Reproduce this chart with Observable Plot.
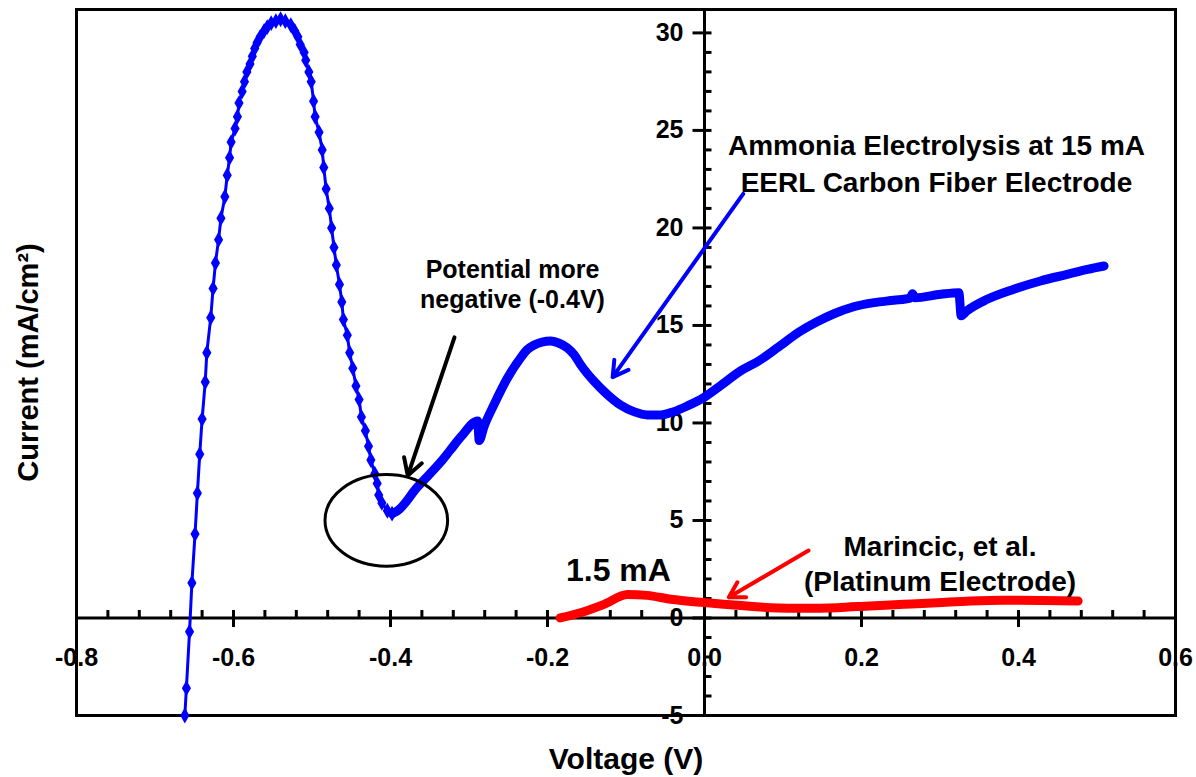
<!DOCTYPE html>
<html><head><meta charset="utf-8">
<script src="https://cdn.jsdelivr.net/npm/d3@7"></script>
<script src="https://cdn.jsdelivr.net/npm/@observablehq/plot@0.6"></script>
<style>
body{margin:0;background:#fff;}
#chart svg{display:block;}
</style></head><body><div id="chart"></div>
<script>
// Blue series, marker part (sweep from -0.66 V up through the big peak to the minimum)
const blueMarkerV = [-0.662,-0.660,-0.656,-0.653,-0.649,-0.646,-0.643,-0.640,-0.636,-0.634,-0.629,-0.626,-0.623,-0.619,-0.616,-0.611,-0.608,-0.605,-0.603,-0.598,-0.595,-0.593,-0.589,-0.586,-0.583,-0.579,-0.576,-0.573,-0.570,-0.566,-0.561,-0.557,-0.552,-0.546,-0.540,-0.534,-0.527,-0.522,-0.518,-0.515,-0.510,-0.508,-0.504,-0.501,-0.498,-0.496,-0.491,-0.487,-0.485,-0.482,-0.478,-0.475,-0.472,-0.469,-0.465,-0.462,-0.460,-0.455,-0.452,-0.448,-0.444,-0.440,-0.437,-0.432,-0.428,-0.425,-0.420,-0.417,-0.415,-0.411,-0.404,-0.398];
const blueMarkerI = [-5.0,-3.6,-0.7,1.8,4.3,6.4,8.4,10.2,12.1,13.6,15.4,16.9,18.2,19.4,20.5,21.6,22.7,23.6,24.4,25.1,25.7,26.4,27.0,27.5,28.0,28.4,28.8,29.2,29.5,29.8,30.1,30.3,30.5,30.6,30.7,30.6,30.4,30.1,29.8,29.4,29.0,28.6,28.0,27.5,26.5,25.7,24.9,24.0,23.1,22.0,21.0,20.0,19.0,18.1,17.1,16.2,15.3,14.5,13.6,12.8,11.9,11.2,10.3,9.6,8.8,8.1,7.4,6.9,6.3,5.9,5.5,5.35];
// Blue series, dense part (markers overlap into a thick band)
const blueBandV = [-0.398,-0.391,-0.366,-0.336,-0.324,-0.310,-0.289,-0.287,-0.281,-0.268,-0.251,-0.234,-0.226,-0.217,-0.207,-0.196,-0.186,-0.175,-0.166,-0.158,-0.141,-0.124,-0.107,-0.090,-0.073,-0.056,-0.039,-0.022,-0.001,0.020,0.046,0.069,0.093,0.122,0.144,0.165,0.190,0.216,0.241,0.262,0.265,0.268,0.301,0.324,0.327,0.334,0.360,0.394,0.428,0.462,0.488,0.509];
const blueBandI = [5.35,5.5,6.7,8.0,8.6,9.3,10.1,9.1,9.8,10.95,12.3,13.35,13.75,14.0,14.15,14.2,14.1,13.86,13.5,13.0,12.15,11.47,10.92,10.58,10.41,10.41,10.58,10.87,11.30,11.9,12.67,13.18,13.86,14.7,15.2,15.6,15.96,16.17,16.29,16.40,16.62,16.42,16.6,16.68,15.5,15.74,16.34,16.86,17.28,17.62,17.88,18.05];
// Red series (Marincic, Platinum electrode)
const redV = [-0.184,-0.158,-0.128,-0.098,-0.073,-0.043,-0.001,0.042,0.084,0.127,0.169,0.211,0.254,0.296,0.339,0.381,0.430,0.476];
const redI = [0.0,0.27,0.70,1.21,1.16,0.96,0.79,0.65,0.53,0.50,0.53,0.62,0.70,0.78,0.87,0.91,0.90,0.87];

const xTicks = [-0.8,-0.6,-0.4,-0.2,0,0.2,0.4,0.6];
const xTickLabels = ["-0.8","-0.6","-0.4","-0.2","0.0","0.2","0.4","0.6"];
const xMinor = [-0.76,-0.72,-0.68,-0.64,-0.56,-0.52,-0.48,-0.44,-0.36,-0.32,-0.28,-0.24,-0.16,-0.12,-0.08,-0.04,0.04,0.08,0.12,0.16,0.24,0.28,0.32,0.36,0.44,0.48,0.52,0.56];
const yTicks = [-5,0,5,10,15,20,25,30];
const yTickLabels = ["-5","0","5","10","15","20","25","30"];
const yMinor = [-4,-3,-2,-1,1,2,3,4,6,7,8,9,11,12,13,14,16,17,18,19,21,22,23,24,26,27,28,29];

const xTitle = "Voltage (V)";
const yTitle = "Current (mA/cm²)";
const noteBlue = "Ammonia Electrolysis at 15 mA\nEERL Carbon Fiber Electrode";
const noteRed = "Marincic, et al.\n(Platinum Electrode)";
const notePotential = "Potential more\nnegative (-0.4V)";
const noteRedPeak = "1.5 mA";

const markers = blueMarkerV.map((v,i)=>({v, c: blueMarkerI[i]}));
const band = blueBandV.map((v,i)=>({v, c: blueBandI[i]}));
const red = redV.map((v,i)=>({v, c: redI[i]}));

const vCross = {draw(ctx){ctx.moveTo(0,-8);ctx.lineTo(0,9);}};
const vUp = {draw(ctx){ctx.moveTo(0,-8);ctx.lineTo(0,0);}};
const hCross = {draw(ctx){ctx.moveTo(-12,0);ctx.lineTo(7,0);}};
const hRight = {draw(ctx){ctx.moveTo(0,0);ctx.lineTo(7,0);}};

const font = "'Liberation Sans', Arial, Helvetica, sans-serif";

const plot = Plot.plot({
  width: 1196, height: 777,
  marginLeft: 76, marginRight: 21, marginTop: 9, marginBottom: 62,
  x: {domain: [-0.8, 0.6], axis: null},
  y: {domain: [-5, 31.2], axis: null},
  style: {fontFamily: font, fontWeight: "bold", background: "white", color: "black"},
  marks: [
    Plot.frame({stroke: "black", strokeWidth: 3}),
    Plot.ruleY([0], {stroke: "black", strokeWidth: 3}),
    Plot.ruleX([0], {stroke: "black", strokeWidth: 3}),
    Plot.dot(xTicks, {x: d=>d, y: ()=>0, symbol: vCross, stroke: "black", fill: "none", strokeWidth: 3}),
    Plot.dot(xMinor, {x: d=>d, y: ()=>0, symbol: vUp, stroke: "black", fill: "none", strokeWidth: 3}),
    Plot.dot(yTicks, {x: ()=>0, y: d=>d, symbol: hCross, stroke: "black", fill: "none", strokeWidth: 3}),
    Plot.dot(yMinor, {x: ()=>0, y: d=>d, symbol: hRight, stroke: "black", fill: "none", strokeWidth: 3}),
    Plot.text(xTicks, {x: d=>d, y: ()=>0, text: (d,i)=>xTickLabels[i], dy: 40, fontSize: 25, fontWeight: "bold", lineAnchor: "middle"}),
    Plot.text(yTicks, {x: ()=>0, y: d=>d, text: (d,i)=>yTickLabels[i], dx: -21, textAnchor: "end", fontSize: 25, fontWeight: "bold", lineAnchor: "middle"}),
    // red series
    Plot.line(red, {x: "v", y: "c", stroke: "#ff0000", strokeWidth: 9, strokeLinejoin: "round", curve: "monotone-x"}),
    // blue series
    Plot.line(markers, {x: "v", y: "c", stroke: "#0000ff", strokeWidth: 3}),
    Plot.dot(markers, {x: "v", y: "c", symbol: "diamond", r: 4.8, fill: "#0000ff", stroke: "none"}),
    Plot.line(band, {x: "v", y: "c", stroke: "#0000ff", strokeWidth: 9, strokeLinejoin: "round", curve: "monotone-x"}),
    // arrows
    Plot.arrow([0], {x1: -0.3185, y1: 14.39, x2: -0.378, y2: 7.3, stroke: "black", strokeWidth: 4, headLength: 7}),
    Plot.arrow([0], {x1: 0.0493, y1: 21.75, x2: -0.117, y2: 12.35, stroke: "#0000ff", strokeWidth: 4, headLength: 6.5}),
    Plot.arrow([0], {x1: 0.1325, y1: 3.46, x2: 0.031, y2: 1.06, stroke: "#ff0000", strokeWidth: 4, headLength: 6.5}),
    // annotations
    Plot.text([notePotential], {x: -0.2446, y: 15.92, text: d=>d, fontSize: 25, fontWeight: "bold", lineAnchor: "bottom", lineHeight: 1.2}),
    Plot.text([noteBlue], {x: 0.2955, y: 21.82, text: d=>d, fontSize: 28, fontWeight: "bold", lineAnchor: "bottom", lineHeight: 1.32}),
    Plot.text([noteRed], {x: 0.300, y: 1.40, text: d=>d, fontSize: 28, fontWeight: "bold", lineAnchor: "bottom", lineHeight: 1.25}),
    Plot.text([noteRedPeak], {x: -0.1096, y: 1.92, text: d=>d, fontSize: 32, fontWeight: "bold", lineAnchor: "bottom"}),
    // axis titles
    Plot.text([xTitle], {frameAnchor: "bottom", text: d=>d, dy: 53, fontSize: 30, fontWeight: "bold", textAnchor: "middle", lineAnchor: "bottom"}),
    Plot.text([yTitle], {frameAnchor: "left", text: d=>d, dx: -48, rotate: -90, fontSize: 29, fontWeight: "bold", textAnchor: "middle", lineAnchor: "middle"})
  ]
});

// ellipse around the minimum, positioned through the plot's scales
const sx = plot.scale("x"), sy = plot.scale("y");
const ellC = [-0.4047, 4.98], ellR = [0.0781, 2.35];
const cx = sx.apply(ellC[0]), cy = sy.apply(ellC[1]);
d3.select(plot).append("ellipse")
  .attr("cx", cx).attr("cy", cy)
  .attr("rx", sx.apply(ellC[0] + ellR[0]) - cx)
  .attr("ry", cy - sy.apply(ellC[1] + ellR[1]))
  .attr("fill", "none").attr("stroke", "black").attr("stroke-width", 3);

document.getElementById("chart").appendChild(plot);
</script></body></html>
